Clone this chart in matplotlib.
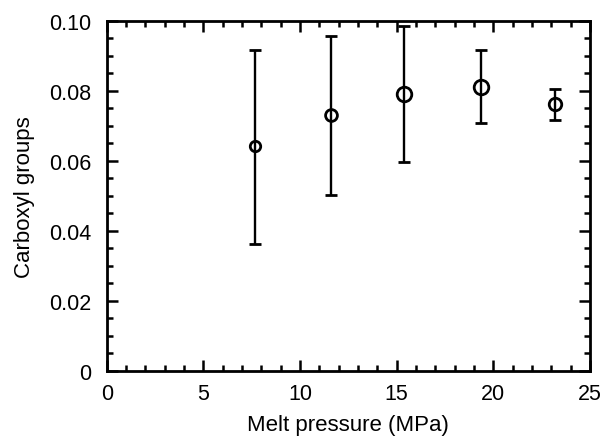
import matplotlib
matplotlib.use("Agg")
import matplotlib.pyplot as plt
from matplotlib.ticker import MultipleLocator, FuncFormatter

# values
pressure = [7.65, 11.6, 15.4, 19.35, 23.2]
carboxyl = [0.0641, 0.0730, 0.0790, 0.0810, 0.0762]
err_top = [0.0917, 0.0957, 0.0985, 0.0915, 0.0806]
err_bottom = [0.0363, 0.0502, 0.0597, 0.0709, 0.0716]

# marker size per point (pt), just to mimic the scan
marker_pt = [7.5, 8.5, 10.5, 10.5, 9.0]

plt.rcParams['font.family'] = ['Liberation Sans', 'DejaVu Sans']

fig = plt.figure(figsize=(6.04, 4.39), dpi=100)
ax = fig.add_axes([0.1767, 0.1533, 0.8001, 0.7973])

for x, y, hi, lo, ms in zip(pressure, carboxyl, err_top, err_bottom, marker_pt):
    ax.errorbar([x], [y], yerr=[[y - lo], [hi - y]], fmt='o', color='black',
                mfc='none', mec='black', ms=ms, mew=2.0, elinewidth=1.7,
                capsize=4, capthick=2.0)

ax.set_xlim(0, 25)
ax.set_ylim(0, 0.10)
ax.xaxis.set_major_locator(MultipleLocator(5))
ax.xaxis.set_minor_locator(MultipleLocator(1))
ax.yaxis.set_major_locator(MultipleLocator(0.02))
ax.yaxis.set_minor_locator(MultipleLocator(0.005))
ax.yaxis.set_major_formatter(FuncFormatter(lambda v, p: '0' if abs(v) < 1e-9 else '%.2f' % v))

ax.tick_params(which='both', direction='in', top=True, right=True, width=1.8,
               labelsize=15.5)
ax.tick_params(axis='x', which='major', pad=9)
ax.tick_params(axis='y', which='major', pad=11)
ax.tick_params(which='major', length=8)
ax.tick_params(which='minor', length=4.5)
for s in ax.spines.values():
    s.set_linewidth(2)

ax.set_xlabel('Melt pressure (MPa)', fontsize=16, labelpad=7)
ax.set_ylabel('Carboxyl groups', fontsize=16, labelpad=10)

fig.savefig('out.png', dpi=100)
